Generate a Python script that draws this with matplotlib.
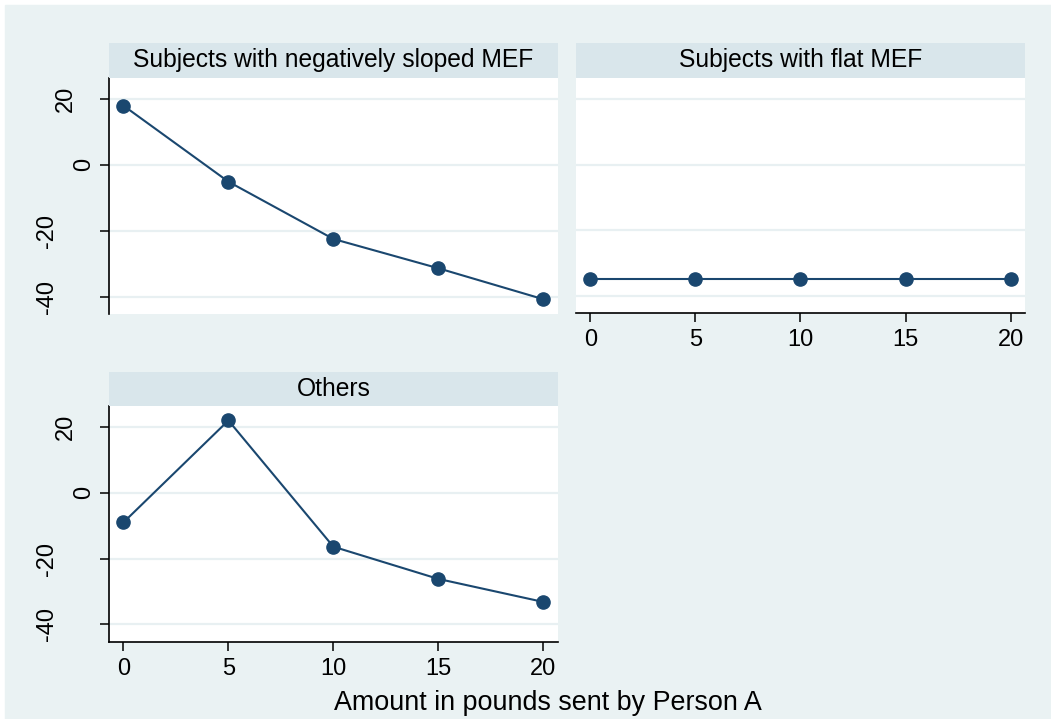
import matplotlib
matplotlib.use("Agg")
import matplotlib.pyplot as plt
from matplotlib.patches import Rectangle


# --------------------------------
# Data
# --------------------------------

amounts = [0, 5, 10, 15, 20]

panel_titles = [
    "Subjects with negatively sloped MEF",
    "Subjects with flat MEF",
    "Others",
]

negative_mef = [18.0, -5.1, -22.5, -31.4, -40.8]
flat_mef = [-35.0, -35.0, -35.0, -35.0, -35.0]
others = [-9.0, 22.0, -16.4, -26.2, -33.2]

y_ticks = [-40, -20, 0, 20]
x_ticks = [0, 5, 10, 15, 20]
x_title = "Amount in pounds sent by Person A"


# --------------------------------
# Stata s2color look
# --------------------------------

bg_color = "#EAF2F3"
strip_color = "#D9E6EB"
line_color = "#1A476F"
grid_color = "#E8F0F2"

plt.rcParams["font.family"] = ["Liberation Sans", "DejaVu Sans"]

W, H = 1051, 719
fig = plt.figure(figsize=(W / 100, H / 100), dpi=100, facecolor="white")
fig.patches.append(Rectangle((5 / W, 0), 1 - 5 / W, 1 - 5 / H,
                             transform=fig.transFigure, color=bg_color, zorder=-10))


def px_box(x0, y0, x1, y1):
    # pixel box (from top-left) -> figure fraction rect
    return [x0 / W, 1 - y1 / H, (x1 - x0) / W, (y1 - y0) / H]


def draw_panel(box, strip_box, title, values, show_x, show_y):
    ax = fig.add_axes(px_box(*box))
    ax.set_facecolor("white")
    ax.plot(amounts, values, color=line_color, lw=1.5, marker="o",
            markersize=9.5, markerfacecolor=line_color,
            markeredgecolor=line_color, zorder=3)
    ax.set_xlim(-0.69, 20.69)
    ax.set_ylim(-45.3, 26.4)
    ax.set_yticks(y_ticks)
    ax.set_xticks(x_ticks)
    for v in y_ticks:
        ax.axhline(v, color=grid_color, lw=1.6, zorder=1)

    for side in ["top", "right"]:
        ax.spines[side].set_visible(False)
    ax.spines["left"].set_visible(show_y)
    ax.spines["bottom"].set_visible(show_x)
    ax.spines["left"].set_linewidth(1.2)
    ax.spines["bottom"].set_linewidth(1.2)

    ax.tick_params(axis="x", length=6.5 if show_x else 0, width=1.1,
                   labelsize=17, pad=5, labelbottom=show_x)
    ax.tick_params(axis="y", length=6.5 if show_y else 0, width=1.1,
                   labelleft=False)

    # rotated y labels, offset by string length like Stata does
    if show_y:
        for v in y_ticks:
            lab = f"{v}"
            dx = 24.5 + 19 * (len(lab) - 1)
            ax.annotate(lab, xy=(0, v), xycoords=ax.get_yaxis_transform(),
                        xytext=(-dx, 0), textcoords="offset pixels",
                        rotation=90, ha="center", va="center", fontsize=17)

    sax = fig.add_axes(px_box(*strip_box))
    sax.set_facecolor(strip_color)
    sax.set_xticks([])
    sax.set_yticks([])
    for s in sax.spines.values():
        s.set_visible(False)
    sax.text(0.5, 0.5, title, ha="center", va="center", fontsize=17.7,
             transform=sax.transAxes)
    return ax


draw_panel((109, 78, 557.7, 314), (109, 43, 557.7, 78),
           panel_titles[0], negative_mef, show_x=False, show_y=True)
draw_panel((576, 78, 1025, 313.3), (576, 43, 1025, 78),
           panel_titles[1], flat_mef, show_x=True, show_y=False)
draw_panel((109, 406, 557.7, 641.7), (109, 372, 557.7, 406),
           panel_titles[2], others, show_x=True, show_y=True)

fig.text(548 / W, 1 - 703 / H, x_title, ha="center", va="center", fontsize=19.4)

fig.savefig("out.png", dpi=100, facecolor="white")
